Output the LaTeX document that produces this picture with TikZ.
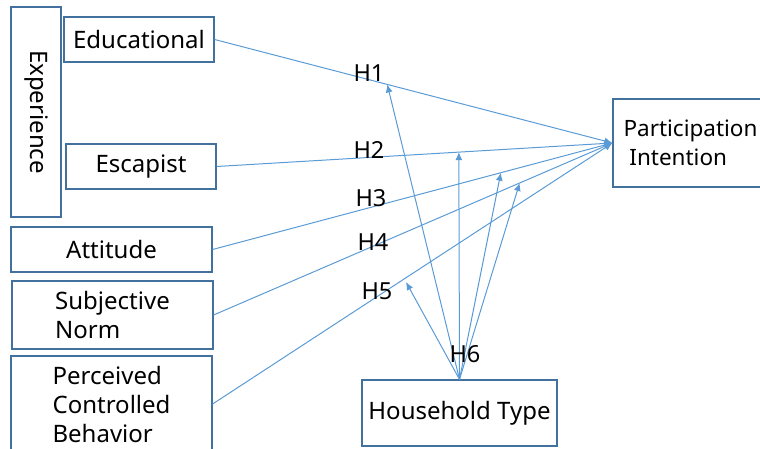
\documentclass[tikz,border=0pt]{standalone}
\usepackage{fontspec}
\setmainfont{Noto Sans}
\usetikzlibrary{positioning}
\usetikzlibrary{arrows.meta}
\definecolor{boxblue}{RGB}{65,113,156}
\definecolor{lineblue}{RGB}{91,155,213}
\tikzset{
	every node/.style={font=\fontsize{24}{29}\selectfont},
	box/.style={draw=boxblue,line width=1.2pt,rectangle,inner sep=0pt},
	hlabel/.style={font=\fontsize{23.5}{26}\selectfont,inner sep=0pt},
	link/.style={draw=lineblue,line width=1pt,-{Latex[length=8pt,width=7pt]}},
}

\begin{document}
\begin{tikzpicture}[x=1pt,y=-1pt]
	\useasboundingbox (0,0) rectangle (760,449);
	\clip (0,0) rectangle (760,449);

	% experience.....................
	\node [box,minimum width=210pt,minimum height=50pt,rotate=-90] (exp) at (36,112) {Experience};
	\node [box,minimum width=150pt,minimum height=45pt] (edu) at (139,39.5) {Educational};
	\node [box,minimum width=150pt,minimum height=45pt] (esc) at (141,166.5) {Escapist};

	% other antecedents..............
	\node [box,minimum width=201pt,minimum height=45pt] (att) at (111.5,249.5) {Attitude};
	\node [box,minimum width=201pt,minimum height=68pt,align=left] (sn) at (112.5,315) {Subjective\\Norm};
	\node [box,minimum width=201pt,minimum height=96pt,align=left] (pcb) at (111.5,404) {Perceived\\Controlled\\Behavior};

	% outcome and moderator..........
	\node [box,minimum width=155pt,minimum height=88pt,align=left,font=\fontsize{22.5}{29}\selectfont] (pi) at (690.5,143) {Participation\\\ Intention};
	\node [box,minimum width=195pt,minimum height=66pt] (ht) at (459.5,413) {Household Type};

	% paths to intention.............
	\draw [link] (edu.east) -- coordinate[pos=0.434] (t1) (pi.west);
	\draw [link] (esc.east) -- coordinate[pos=0.612] (t2) (pi.west);
	\draw [link] (att.east) -- coordinate[pos=0.721] (t3) (pi.west);
	\draw [link] (sn.east) -- coordinate[pos=0.7675] (t4) (pi.west);
	\draw [link] (pcb.east) -- (pi.west);
	\coordinate (t5) at (406,282);

	% moderating arrows..............
	\foreach \t in {t1,t2,t3,t4,t5}
		\draw [link] (ht.north) -- (\t);

	% hypothesis labels..............
	\node [hlabel] (h1) at (369,73) {H1};
	\node [hlabel] (h2) at (369,150) {H2};
	\node [hlabel] (h3) at (371,198) {H3};
	\node [hlabel] (h4) at (373,242) {H4};
	\node [hlabel] (h5) at (377,291) {H5};
	\node [hlabel] (h6) at (465,354) {H6};

\end{tikzpicture}
\end{document}
